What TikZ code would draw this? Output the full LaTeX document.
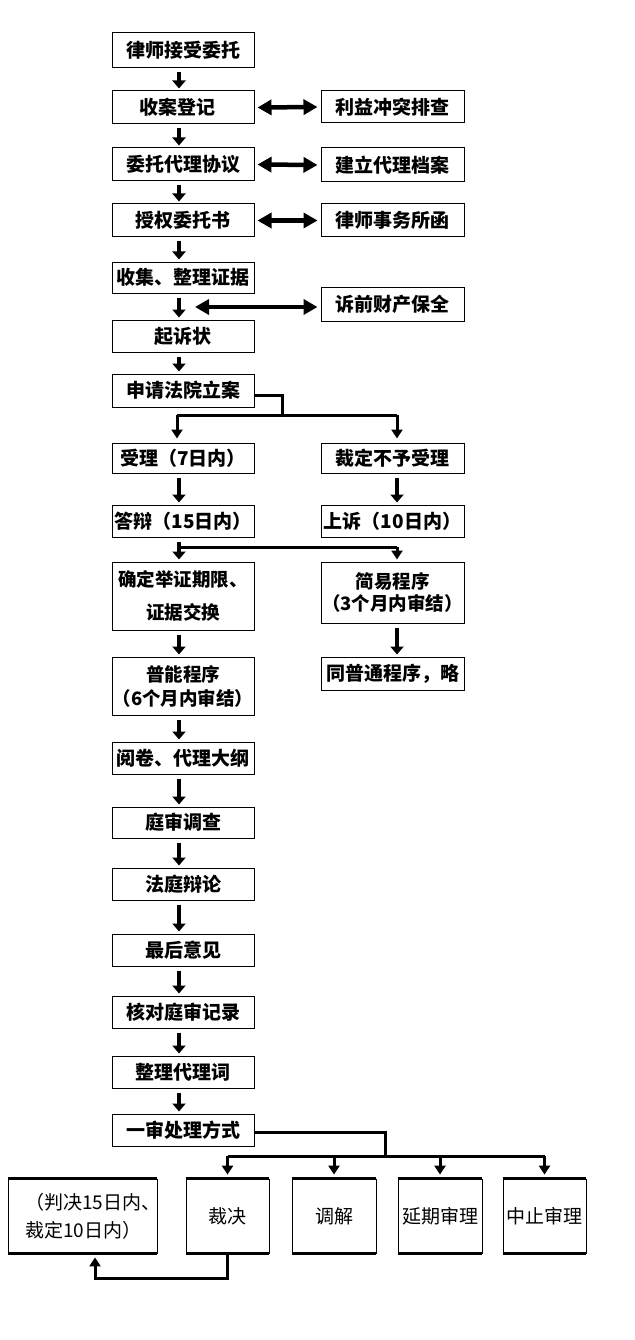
\documentclass[tikz,border=0pt]{standalone}
\usepackage{fontspec}
\newfontfamily\cjk{Noto Sans CJK SC}
\usetikzlibrary{arrows.meta}
\begin{document}
\begin{tikzpicture}[x=1pt,y=-1pt,
  box/.style={draw, line width=1pt, fill=white, inner sep=0pt, align=center,
    font=\cjk\bfseries\fontsize{19}{21}\selectfont},
  lbox/.style={box, minimum width=142pt},
  rbox/.style={box, minimum width=143pt},
  bbox/.style={draw, line width=0.8pt, fill=white, inner sep=0pt, align=center,
    minimum height=74pt, font=\cjk\fontsize{19}{21}\selectfont},
  dn/.style={line width=4.5pt, -{Triangle[width=13pt,length=8pt]}, shorten <=4pt, shorten >=2pt},
  dbl/.style={line width=4.5pt, {Triangle[width=15pt,length=14pt]}-{Triangle[width=15pt,length=14pt]}},
  conn/.style={line width=3pt, line join=miter},
  brarr/.style={line width=3pt, -{Triangle[width=11pt,length=9pt]}, shorten >=4pt},
  thickedge/.style={line width=2.6pt}
]
\useasboundingbox (0,0) rectangle (634,1340);

% left column
\node[lbox, minimum height=35pt] (b1) at (183,50.5) {律师接受委托};
\node[lbox, minimum height=33pt] (b2) at (183,107.5) {收案登记\hspace{12pt}};
\node[lbox, minimum height=33pt] (b3) at (183,164.5) {委托代理协议};
\node[lbox, minimum height=33pt] (b4) at (183,220.5) {授权委托书};
\node[lbox, minimum height=31pt] (b5) at (183,277.5) {收集、整理证据};
\node[lbox, minimum height=32pt] (b6) at (183,336) {起诉状};
\node[lbox, minimum height=33pt] (b7) at (183,390.5) {申请法院立案};
\node[lbox, minimum height=30pt] (b8) at (183,458) {受理（7日内）};
\node[lbox, minimum height=32pt] (b9) at (183,521) {答辩（15日内）};
\node[lbox, minimum height=68pt, font=\cjk\bfseries\fontsize{18.5}{33}\selectfont] (b10) at (183,596) {确定举证期限、\\证据交换};
\node[lbox, minimum height=58pt, font=\cjk\bfseries\fontsize{18.5}{24}\selectfont] (b11) at (183,686) {普能程序\\（6个月内审结）};
\node[lbox, minimum height=32pt] (b12) at (183,758) {阅卷、代理大纲};
\node[lbox, minimum height=31pt] (b13) at (183,822.5) {庭审调查};
\node[lbox, minimum height=32pt] (b14) at (183,884) {法庭辩论};
\node[lbox, minimum height=32pt] (b15) at (183,950) {最后意见};
\node[lbox, minimum height=32pt] (b16) at (183,1012) {核对庭审记录};
\node[lbox, minimum height=32pt] (b17) at (183,1072) {整理代理词};
\node[lbox, minimum height=32pt] (b18) at (183,1130) {一审处理方式};

% right column
\node[rbox, minimum height=32pt] (r1) at (392.5,107) {利益冲突排查};
\node[rbox, minimum height=34pt] (r2) at (392.5,165) {建立代理档案};
\node[rbox, minimum height=33pt] (r3) at (392.5,220.5) {律师事务所函};
\node[rbox, minimum height=34pt] (r4) at (392.5,304) {诉前财产保全};
\node[rbox, minimum height=30pt] (r5) at (392.5,458) {裁定不予受理};
\node[rbox, minimum height=32pt] (r6) at (392.5,521) {上诉（10日内）};
\node[rbox, minimum height=61pt, font=\cjk\bfseries\fontsize{18.5}{22}\selectfont] (r7) at (392.5,592.5) {简易程序\\（3个月内审结）};
\node[rbox, minimum height=33pt] (r8) at (392.5,673.5) {同普通程序，略};

% bottom row
\node[bbox, minimum width=149pt] (j) at (82.5,1216) {};
\node[anchor=west, inner sep=0pt, align=left, font=\cjk\fontsize{19}{28}\selectfont] (jt) at (25,1216) {（判决15日内、\\裁定10日内）};
\node[bbox, minimum width=83pt] (c1) at (227.5,1216) {裁决};
\node[bbox, minimum width=84pt] (c2) at (334,1216) {调解};
\node[bbox, minimum width=84pt] (c3) at (440,1216) {延期审理};
\node[bbox, minimum width=83pt] (c4) at (544.5,1216) {中止审理};
\foreach \n in {j,c1,c2,c3,c4}{
  \draw[thickedge] (\n.north west) -- (\n.north east);
  \draw[thickedge] (\n.south west) -- (\n.south east);
}

% vertical arrows in left column
\coordinate (ax) at (179,0);
\foreach \a/\b in {b1/b2,b2/b3,b3/b4,b4/b5,b5/b6,b6/b7,b8/b9,b9/b10,b10/b11,b11/b12,b12/b13,b13/b14,b14/b15,b15/b16,b16/b17,b17/b18}{
  \draw[dn] (\a.south -| ax) -- (\b.north -| ax);
}
% right column arrows
\coordinate (rx) at (397,0);
\draw[dn] (r5.south -| rx) -- (r6.north -| rx);
\draw[dn] (r7.south -| rx) -- (r8.north -| rx);

% double arrows
\draw[dbl] ([xshift=3pt]b2.east) -- ([xshift=-3pt]r1.west);
\draw[dbl] ([xshift=3pt]b3.east) -- ([xshift=-3pt]r2.west);
\draw[dbl] ([xshift=3pt]b4.east) -- ([xshift=-3pt]r3.west);
\coordinate (p4) at (195,307);
\draw[dbl] (p4) -- ([xshift=-3pt,yshift=-3pt]r4.west);

% branch after b7
\coordinate (k1) at (282,415);
\draw[conn] ([yshift=-5pt]b7.east) -| (k1);
\coordinate (lx) at (177,0);
\draw[conn] (k1 -| lx) -- (k1 -| rx);
\draw[brarr] (k1 -| lx) -- (b8.north -| lx);
\draw[brarr] (k1 -| rx) -- (r5.north -| rx);

% branch after b9
\coordinate (k2) at (179,547);
\draw[conn] (k2) -- (k2 -| rx);
\draw[brarr, shorten >=2pt] (k2 -| rx) -- (r7.north -| rx);

% branch after b18
\coordinate (k3) at (385,1156);
\draw[conn] ([yshift=-2pt]b18.east) -| (k3);
\draw[conn] (c1.north |- k3) -- (c4.north |- k3);
\foreach \n in {c1,c2,c3,c4}{
  \draw[brarr] (\n.north |- k3) -- (\n.north);
}

% return from 裁决
\coordinate (k4) at (95,1278);
\draw[conn, -{Triangle[width=11pt,length=9pt]}, shorten >=4pt] (c1.south) |- (k4) -- (k4 |- j.south);
\end{tikzpicture}
\end{document}
